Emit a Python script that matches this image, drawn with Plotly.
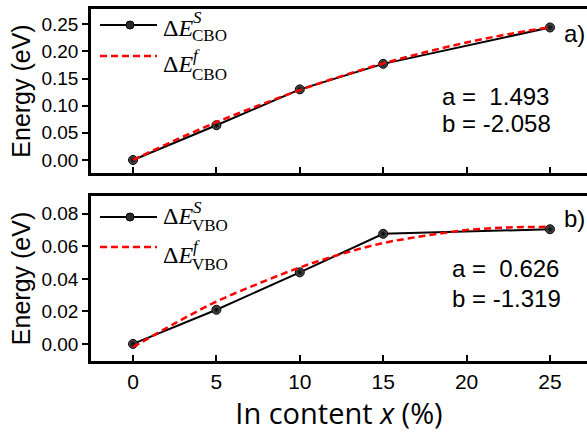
import plotly.graph_objects as go

# In content (%) where band offsets were computed
x_content = [0, 5, 10, 15, 25]
cbo_sim = [0.0, 0.064, 0.130, 0.177, 0.244]
vbo_sim = [0.0, 0.021, 0.044, 0.0677, 0.0705]

# Quadratic bowing fit curves, sampled along the composition axis
x_fit = [0, 2.5, 5, 7.5, 10, 12.5, 15, 17.5, 20, 22.5, 25]
cbo_fit = [0.0, 0.036, 0.0695, 0.100, 0.1287, 0.1545, 0.1777, 0.1983, 0.2163, 0.2317, 0.2446]
vbo_fit = [-0.002, 0.0126, 0.026, 0.037, 0.047, 0.0553, 0.062, 0.0665, 0.070, 0.0716, 0.072]

x_ticks = [0, 5, 10, 15, 20, 25]
fit_params_cbo = ["a =\u00a0\u00a01.493", "b = -2.058"]
fit_params_vbo = ["a =\u00a0\u00a00.626", "b = -1.319"]

W, H = 587, 437
ML, MR, MT, MB = 91, 0, 9, 76
PW, PH = W - ML - MR, H - MT - MB


def px(x):
    return (x - ML) / PW


def py(y):
    return (H - MB - y) / PH


SANS = "Liberation Sans"
SERIF = "Liberation Serif"

marker_style = dict(size=9, color="#5a5a5a", symbol="circle",
                    gradient=dict(type="radial", color="black"),
                    line=dict(color="black", width=1))

fig = go.Figure()
for xa, ya, sim, fit in [("x", "y", cbo_sim, cbo_fit), ("x2", "y2", vbo_sim, vbo_fit)]:
    fig.add_trace(go.Scatter(x=x_content, y=sim, mode="lines+markers", xaxis=xa, yaxis=ya,
                             line=dict(color="black", width=2), marker=marker_style,
                             showlegend=False))
    fig.add_trace(go.Scatter(x=x_fit, y=fit, mode="lines", xaxis=xa, yaxis=ya,
                             line=dict(color="#ff0000", width=2.5, dash="7px,4px", shape="spline"),
                             showlegend=False))

axis_common = dict(showline=True, linewidth=2.5, linecolor="black", showgrid=False,
                   zeroline=False, tickwidth=2, tickcolor="black", ticklen=6,
                   tickfont=dict(family=SANS, size=19, color="black"))

y_title = dict(text="Energy (eV)", standoff=4, font=dict(family=SANS, size=25, color="black"))

x_range = [-2.52, 27.22]
fig.update_layout(
    width=W, height=H, plot_bgcolor="white", paper_bgcolor="white",
    margin=dict(l=ML, r=MR, t=MT, b=MB),
    xaxis=dict(axis_common, range=x_range, domain=[0, 1], anchor="y", mirror=True,
               ticks="inside", tickvals=x_ticks, showticklabels=False),
    yaxis=dict(axis_common, range=[-0.024, 0.278], domain=[0.534, 1], anchor="x",
               ticks="outside", dtick=0.05, tick0=0, tickformat=".2f", title=y_title),
    xaxis2=dict(axis_common, range=x_range, domain=[0, 1], anchor="y2", mirror=True,
                ticks="inside", tickvals=x_ticks,
                tickfont=dict(family=SANS, size=21, color="black"),
                title=dict(text="In content <i>x</i> (%)", standoff=7,
                           font=dict(family="Open Sans", size=29, color="black"))),
    yaxis2=dict(axis_common, range=[-0.0105, 0.091], domain=[0, 0.469], anchor="x2",
                ticks="outside", dtick=0.02, tick0=0, tickformat=".2f", title=y_title),
)

shapes = []
annotations = []


def text_at(text, x, y, size, family, anchor="left"):
    annotations.append(dict(text=text, x=px(x), y=py(y), xref="paper", yref="paper",
                            xanchor=anchor, yanchor="middle", showarrow=False,
                            font=dict(family=family, size=size, color="black")))


def legend_entry(line_y, band, script, solid, main_y, sup_y, sub_y):
    x0, x1 = px(100), px(157)
    if solid:
        shapes.append(dict(type="line", xref="paper", yref="paper", x0=x0, x1=x1,
                           y0=py(line_y), y1=py(line_y), line=dict(color="black", width=2)))
        r = 4
        shapes.append(dict(type="circle", xref="paper", yref="paper",
                           x0=px(130 - r), x1=px(130 + r), y0=py(line_y + r), y1=py(line_y - r),
                           fillcolor="#2a2a2a", line=dict(color="black", width=1)))
    else:
        shapes.append(dict(type="line", xref="paper", yref="paper", x0=x0, x1=x1,
                           y0=py(line_y), y1=py(line_y),
                           line=dict(color="#ff0000", width=2.5, dash="7px,4px")))
    text_at("Δ<i>E</i>", 161, main_y, 24, SERIF)
    text_at("<i>" + script + "</i>", 191, sup_y, 17, SERIF)
    text_at(band, 190, sub_y, 17, SERIF)


legend_entry(25, "CBO", "S", True, 27.5, 18, 36)
legend_entry(56, "CBO", "f", False, 64, 55, 74)
legend_entry(217, "VBO", "S", True, 216, 207, 225)
legend_entry(247, "VBO", "f", False, 254.5, 246, 264)

text_at(fit_params_cbo[0], 440, 96, 24, SANS)
text_at(fit_params_cbo[1], 440, 123, 24, SANS)
text_at("a)", 562, 33, 24, SANS)
text_at(fit_params_vbo[0], 450, 268, 24, SANS)
text_at(fit_params_vbo[1], 450, 298, 24, SANS)
text_at("b)", 562, 218, 24, SANS)

fig.update_layout(shapes=shapes, annotations=annotations)
fig.write_html("out.html")
